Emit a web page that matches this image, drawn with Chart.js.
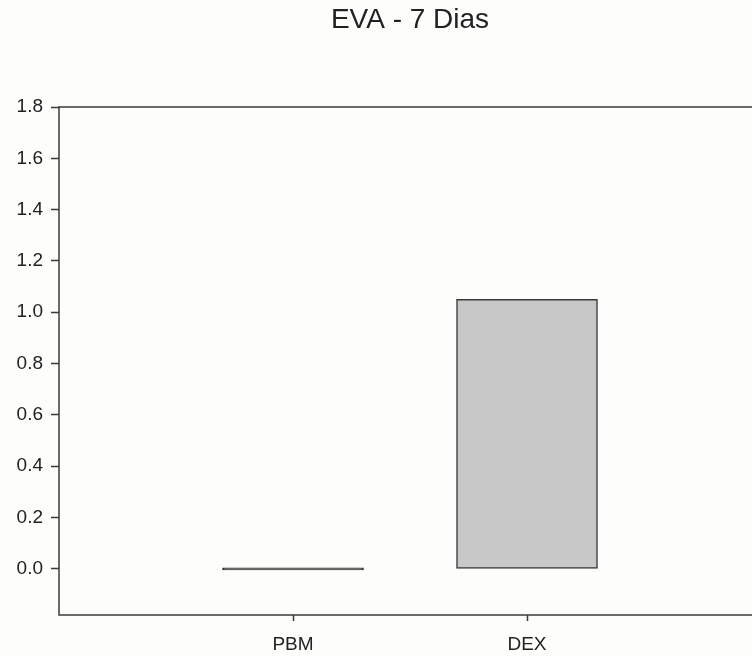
<!DOCTYPE html>
<html>
<head>
<meta charset="utf-8">
<script src="https://cdn.jsdelivr.net/npm/chart.js@4"></script>
<style>
  html, body { margin: 0; padding: 0; background: #fdfdfc; overflow: hidden; }
  canvas { display: block; }
</style>
</head>
<body>
<canvas id="g_eva" width="820" height="656"></canvas>
<script>
// datos
var grupos = ['', 'PBM', 'DEX', ''];
var valores = [null, 0, 1.05, null];
var ticks_y = [0, 0.2, 0.4, 0.6, 0.8, 1.0, 1.2, 1.4, 1.6, 1.8];
var y_min = -0.18;
var y_max = 1.8;

var color_linea = '#3a3a3a';
var fuente = 'Liberation Sans, Arial, sans-serif';

// marco alrededor del area del grafico
var marco = {
    id: 'marco',
    afterDatasetsDraw: function (chart) {
        var a = chart.chartArea;
        var ctx = chart.ctx;
        ctx.save();
        ctx.strokeStyle = color_linea;
        ctx.lineWidth = 1.5;
        ctx.strokeRect(a.left, a.top, a.right - a.left, a.bottom - a.top);
        ctx.restore();
    }
};

var ctx = document.getElementById('g_eva').getContext('2d');
var myChart = new Chart(ctx, {
    type: 'bar',
    data: {
        labels: grupos,
        datasets: [{
            data: valores,
            backgroundColor: [null, color_linea, '#c8c8c8', null],
            borderColor: color_linea,
            borderWidth: 1.5,
            borderSkipped: false,
            minBarLength: 2,
            barThickness: 141
        }]
    },
    options: {
        responsive: false,
        animation: false,
        layout: { padding: 0 },
        plugins: {
            legend: { display: false },
            tooltip: { enabled: false },
            title: {
                display: true,
                text: 'EVA - 7 Dias',
                color: '#222',
                font: { family: fuente, size: 28, weight: 'normal' },
                padding: { top: 3, bottom: 70.4 }
            }
        },
        scales: {
            x: {
                offset: false,
                grid: {
                    offset: false,
                    drawOnChartArea: false,
                    tickLength: 6,
                    tickWidth: 1.5,
                    tickColor: function (c) {
                        return grupos[c.index] ? color_linea : 'rgba(0,0,0,0)';
                    }
                },
                border: { display: false },
                ticks: {
                    color: '#222',
                    autoSkip: false,
                    maxRotation: 0,
                    padding: 12,
                    font: { family: fuente, size: 19 }
                },
                afterFit: function (scale) { scale.height = 41; }
            },
            y: {
                min: y_min,
                max: y_max,
                grid: {
                    drawOnChartArea: false,
                    tickLength: 8,
                    tickWidth: 1.5,
                    tickColor: color_linea
                },
                border: { display: false },
                ticks: {
                    color: '#222',
                    padding: 8,
                    font: { family: fuente, size: 19 },
                    callback: function (v) { return Number(v).toFixed(1); }
                },
                afterBuildTicks: function (scale) {
                    scale.ticks = ticks_y.map(function (v) { return { value: v }; });
                },
                afterFit: function (scale) { scale.width = 59; }
            },
            // eje vacio a la derecha, fuera de la ventana, para centrar el titulo
            y2: {
                position: 'right',
                min: y_min,
                max: y_max,
                grid: { display: false },
                border: { display: false },
                ticks: { display: false },
                afterFit: function (scale) { scale.width = 59; }
            }
        }
    },
    plugins: [marco]
});
</script>
</body>
</html>
